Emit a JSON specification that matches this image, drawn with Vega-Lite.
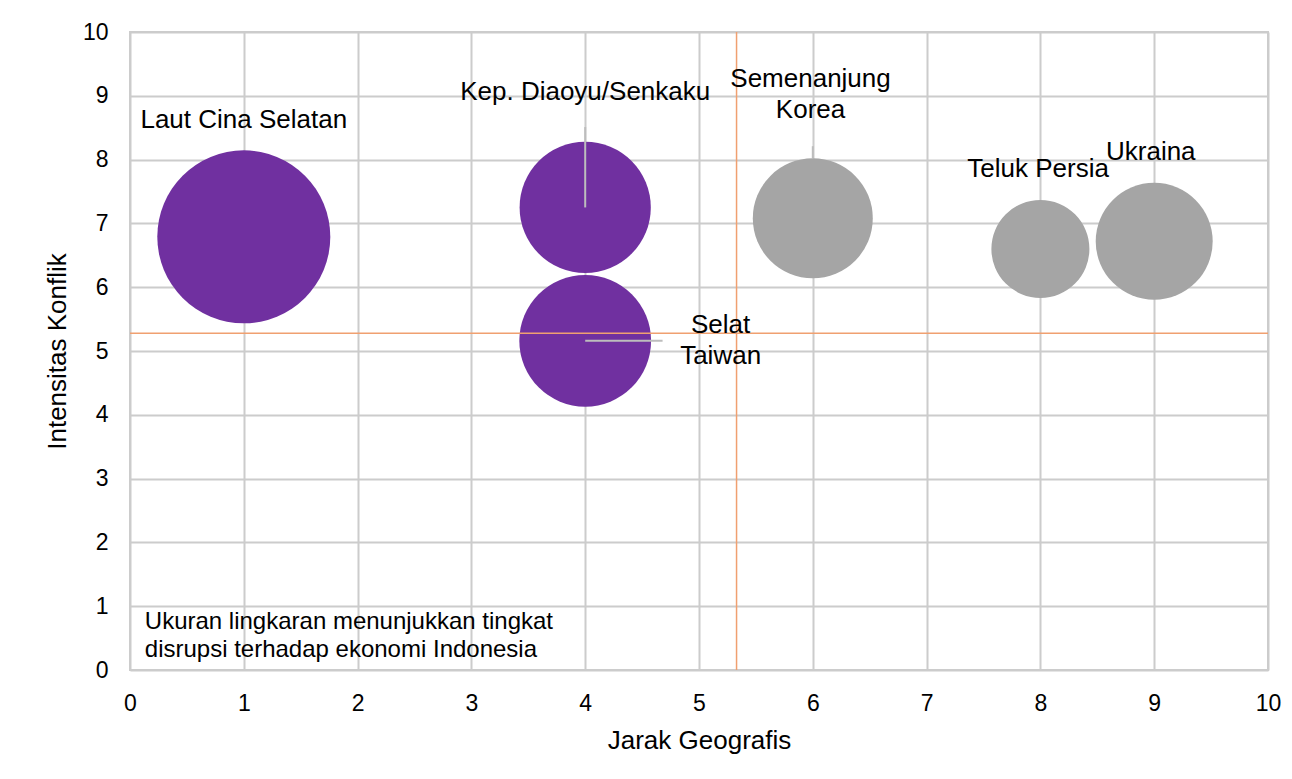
{
  "$schema": "https://vega.github.io/schema/vega-lite/v6.json",
  "width": 1138,
  "height": 638,
  "autosize": {"type": "none"},
  "padding": {"left": 130, "top": 32, "right": 24, "bottom": 109},
  "background": "white",
  "config": {
    "view": {"stroke": "#cccccc", "strokeWidth": 2},
    "font": "Liberation Sans",
    "axis": {
      "grid": true,
      "gridColor": "#cccccc",
      "gridWidth": 2,
      "domain": false,
      "ticks": false,
      "labelFont": "Liberation Sans",
      "labelFontSize": 23,
      "labelColor": "#000000",
      "labelPadding": 22,
      "labelFlush": false,
      "labelBound": false,
      "labelOverlap": false,
      "format": "d",
      "titleFont": "Liberation Sans",
      "titleFontSize": 26,
      "titleFontWeight": "normal",
      "titleColor": "#000000"
    }
  },
  "datasets": {
    "konflik": [
      {"wilayah": "Laut Cina Selatan", "jarak": 1, "intensitas": 6.79, "disrupsi": 10, "grup": "dekat"},
      {"wilayah": "Kep. Diaoyu/Senkaku", "jarak": 4, "intensitas": 7.25, "disrupsi": 5.75, "grup": "dekat"},
      {"wilayah": "Selat Taiwan", "jarak": 4, "intensitas": 5.16, "disrupsi": 5.8, "grup": "dekat"},
      {"wilayah": "Semenanjung Korea", "jarak": 6, "intensitas": 7.08, "disrupsi": 4.81, "grup": "jauh"},
      {"wilayah": "Teluk Persia", "jarak": 8, "intensitas": 6.6, "disrupsi": 3.21, "grup": "jauh"},
      {"wilayah": "Ukraina", "jarak": 9, "intensitas": 6.72, "disrupsi": 4.57, "grup": "jauh"}
    ],
    "label": [
      {"teks": ["Laut Cina Selatan"], "lx": 1, "ly": 8.5},
      {"teks": ["Kep. Diaoyu/Senkaku"], "lx": 4, "ly": 8.93},
      {"teks": ["Semenanjung", "Korea"], "lx": 5.98, "ly": 9.14},
      {"teks": ["Selat", "Taiwan"], "lx": 5.19, "ly": 5.28},
      {"teks": ["Teluk Persia"], "lx": 7.98, "ly": 7.73},
      {"teks": ["Ukraina"], "lx": 8.97, "ly": 7.99}
    ],
    "garis": [
      {"x": 4, "y": 7.25, "x2": 4, "y2": 8.51},
      {"x": 6, "y": 8.02, "x2": 6, "y2": 8.21},
      {"x": 4, "y": 5.16, "x2": 4.68, "y2": 5.16}
    ],
    "rataan": [
      {"jarak_rata": 5.33, "intensitas_rata": 5.28}
    ],
    "catatan": [
      {"teks": ["Ukuran lingkaran menunjukkan tingkat", "disrupsi terhadap ekonomi Indonesia"], "lx": 0.13, "ly": 0.64}
    ]
  },
  "layer": [
    {
      "data": {"name": "konflik"},
      "mark": {"type": "circle", "opacity": 1},
      "encoding": {
        "x": {
          "field": "jarak", "type": "quantitative",
          "scale": {"domain": [0, 10], "nice": false},
          "axis": {"values": [0,1,2,3,4,5,6,7,8,9,10], "format": "d", "title": "Jarak Geografis", "titlePadding": 12}
        },
        "y": {
          "field": "intensitas", "type": "quantitative",
          "scale": {"domain": [0, 10], "nice": false},
          "axis": {"values": [0,1,2,3,4,5,6,7,8,9,10], "format": "d", "title": "Intensitas Konflik", "titlePadding": 12}
        },
        "size": {
          "field": "disrupsi", "type": "quantitative",
          "scale": {"type": "linear", "domain": [0, 10], "range": [0, 29930]},
          "legend": null
        },
        "color": {
          "field": "grup", "type": "nominal",
          "scale": {"domain": ["dekat", "jauh"], "range": ["#7030A0", "#A5A5A5"]},
          "legend": null
        }
      }
    },
    {
      "data": {"name": "garis"},
      "mark": {"type": "rule", "color": "#bdbdbd", "strokeWidth": 2},
      "encoding": {
        "x": {"field": "x", "type": "quantitative"},
        "y": {"field": "y", "type": "quantitative"},
        "x2": {"field": "x2"},
        "y2": {"field": "y2"}
      }
    },
    {
      "data": {"name": "rataan"},
      "mark": {"type": "rule", "color": "#F0A070", "strokeWidth": 1.5},
      "encoding": {
        "y": {"field": "intensitas_rata", "type": "quantitative"}
      }
    },
    {
      "data": {"name": "rataan"},
      "mark": {"type": "rule", "color": "#F0A070", "strokeWidth": 1.5},
      "encoding": {
        "x": {"field": "jarak_rata", "type": "quantitative"}
      }
    },
    {
      "data": {"name": "label"},
      "mark": {"type": "text", "fontSize": 26, "font": "Liberation Sans", "color": "#000000", "align": "center", "baseline": "alphabetic", "lineHeight": 31},
      "encoding": {
        "x": {"field": "lx", "type": "quantitative"},
        "y": {"field": "ly", "type": "quantitative"},
        "text": {"field": "teks"}
      }
    },
    {
      "data": {"name": "catatan"},
      "mark": {"type": "text", "fontSize": 24, "font": "Liberation Sans", "color": "#000000", "align": "left", "baseline": "alphabetic", "lineHeight": 28},
      "encoding": {
        "x": {"field": "lx", "type": "quantitative"},
        "y": {"field": "ly", "type": "quantitative"},
        "text": {"field": "teks"}
      }
    }
  ]
}
